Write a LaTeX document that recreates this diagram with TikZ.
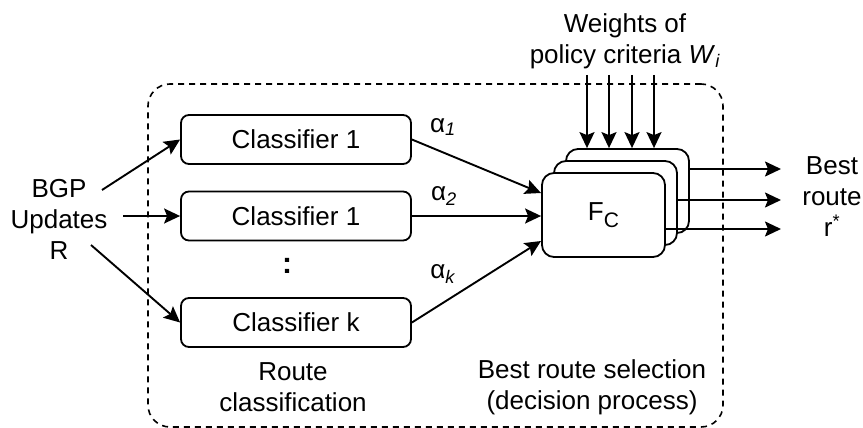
\documentclass[tikz,border=0pt]{standalone}
\usepackage{fontspec}
\setmainfont{Liberation Sans}
\usetikzlibrary{arrows.meta}
\begin{document}
\begin{tikzpicture}[x=1pt,y=-1pt,
  every node/.style={font=\fontsize{26}{31}\selectfont, inner sep=0pt},
  box/.style={draw, line width=1.8pt, rounded corners=8pt, minimum width=230pt, minimum height=49pt},
  fcbox/.style={draw, line width=1.8pt, rounded corners=12pt, fill=white, minimum width=123pt, minimum height=84pt},
  region/.style={draw, line width=1.6pt, dash pattern=on 6pt off 5pt, rounded corners=22pt},
  arr/.style={line width=1.9pt, -{Stealth[length=16pt,width=15pt,inset=3pt]}},
  lbl/.style={align=center}]
\useasboundingbox (0,0) rectangle (863,428);

% dashed container
\node[region, minimum width=575pt, minimum height=343pt] (reg) at (435.5,255.5) {};

% classifiers
\node[box] (c1) at (296,139.5) {Classifier 1};
\node[box] (c2) at (296,216) {Classifier 1};
\node[box] (ck) at (296,322.5) {Classifier k};
\node[font=\fontsize{30}{30}\selectfont\bfseries] (dots) at (287,266) {:};

% decision stack
\node[fcbox] (f3) at (627.5,191) {};
\node[fcbox] (f2) at (615.5,203) {};
\node[fcbox] (f1) at (603.5,215) {F\raisebox{-7pt}{\fontsize{21}{21}\selectfont C}};

% input text
\node[lbl] (bgp) at (59,219) {BGP\\Updates\\R};
\coordinate (b1) at (102,190);
\coordinate (b2) at (123,216);
\coordinate (b3) at (91,245);
\draw[arr] (b1) -- (c1.west);
\draw[arr] (b2) -- (c2.west);
\draw[arr] (b3) -- (ck.west);

% classifier outputs
\coordinate (e1) at (541,193);
\coordinate (e3) at (541,241);
\draw[arr] (c1.east) -- (e1);
\draw[arr] (c2.east) -- (c2.east -| f1.west);
\draw[arr] (ck.east) -- (e3);
\node (a1) at (443,127) {α\textsubscript{\textit{1}}};
\node (a2) at (444,196) {α\textsubscript{\textit{2}}};
\node (ak) at (443,274) {α\textsubscript{\textit{k}}};

% weights
\node[lbl] (wt) at (625,41) {Weights of\\policy criteria \textit{W}\textsubscript{\textit{i}}};
\foreach \x [count=\i] in {587,609,632,654} {
  \coordinate (w\i) at (\x,75);
  \draw[arr] (w\i) -- (w\i |- f3.north);
}

% outputs
\coordinate (o1) at (781,169);
\coordinate (o2) at (781,200);
\coordinate (o3) at (781,229);
\draw[arr] (f3.east |- o1) -- (o1);
\draw[arr] (f2.east |- o2) -- (o2);
\draw[arr] (f1.east |- o3) -- (o3);
\node[lbl] (best) at (832,197) {Best\\route\\r\textsuperscript{*}};

% captions
\node[lbl] (rc) at (293,387) {Route\\classification};
\node[lbl] (bs) at (592,387) {Best route selection\\(decision process)};
\end{tikzpicture}
\end{document}
